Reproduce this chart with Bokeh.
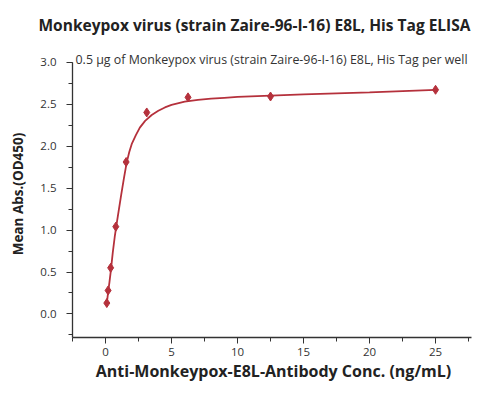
from bokeh.plotting import figure
from bokeh.models import Label, Range1d, SingleIntervalTicker, NumeralTickFormatter
from bokeh.embed import file_html
from bokeh.resources import INLINE

# measured points
conc = [0.098, 0.195, 0.39, 0.78, 1.5625, 3.125, 6.25, 12.5, 25.0]
od450 = [0.13, 0.28, 0.55, 1.04, 1.81, 2.40, 2.58, 2.59, 2.67]

# fitted curve
curve_x = [0.1, 0.2, 0.3, 0.4, 0.55, 0.7, 0.85, 1.0, 1.2, 1.4, 1.6, 1.8, 2.0, 2.3, 2.6,
           3.0, 3.5, 4.0, 4.5, 5.0, 6.0, 7.0, 8.0, 9.0, 10.0, 12.5, 15.0, 20.0, 25.0]
curve_y = [0.13, 0.26, 0.38, 0.51, 0.73, 0.92, 1.08, 1.23, 1.43, 1.62, 1.80, 1.93, 2.03, 2.13, 2.22,
           2.30, 2.37, 2.42, 2.46, 2.49, 2.53, 2.55, 2.565, 2.575, 2.585, 2.60, 2.615, 2.64, 2.67]

title_text = "Monkeypox virus (strain Zaire-96-I-16) E8L, His Tag ELISA"
subtitle_text = "0.5 \u03bcg of Monkeypox virus (strain Zaire-96-I-16) E8L, His Tag per well"
x_label = "Anti-Monkeypox-E8L-Antibody Conc. (ng/mL)"
y_label = "Mean Abs.(OD450)"

FONT = "Open Sans"
RED = "#b5313c"

p = figure(width=474, height=384, output_backend="svg", toolbar_location=None,
           x_range=Range1d(-2.5, 27.95), y_range=Range1d(-0.28, 3.138),
           min_border_left=72, min_border_right=0, min_border_top=44, min_border_bottom=42)
p.outline_line_color = None
p.xgrid.visible = False
p.ygrid.visible = False

p.title.text = title_text
p.title.text_font = FONT
p.title.text_font_size = "15.5px"
p.title.text_font_style = "bold"
p.title.text_color = "#222222"
p.title.align = "left"
p.title.offset = -34
p.title.vertical_align = "top"
p.title.standoff = 26

for ax in (p.xaxis[0], p.yaxis[0]):
    ax.axis_line_color = "#333333"
    ax.axis_line_width = 1.3
    ax.major_tick_line_color = "#333333"
    ax.minor_tick_line_color = "#333333"
    ax.major_tick_in = 0
    ax.major_tick_out = 6
    ax.minor_tick_in = 0
    ax.minor_tick_out = 4
    ax.major_label_text_font = FONT
    ax.major_label_text_font_size = "11.5px"
    ax.major_label_text_color = "#333333"
    ax.axis_label_text_font = FONT
    ax.axis_label_text_font_style = "bold"
    ax.axis_label_text_color = "#222222"

p.xaxis.ticker = SingleIntervalTicker(interval=5, num_minor_ticks=2)
p.yaxis.ticker = SingleIntervalTicker(interval=0.5, num_minor_ticks=2)
p.yaxis.formatter = NumeralTickFormatter(format="0.0")
p.xaxis.bounds = (-2.5, 27.7)
p.yaxis.bounds = (-0.28, 3.0)
p.xaxis.axis_label = x_label
p.yaxis.axis_label = y_label
p.xaxis.axis_label_text_font_size = "16px"
p.yaxis.axis_label_text_font_size = "13.5px"
p.xaxis.major_label_standoff = 4
p.xaxis.axis_label_standoff = 1
p.yaxis.major_label_standoff = 10
p.yaxis.axis_label_standoff = 10

p.line(curve_x, curve_y, line_color=RED, line_width=1.8)
p.scatter(conc, od450, marker="diamond", size=9, fill_color=RED, line_color=RED)

p.add_layout(Label(x=-2.27, y=3.03, text=subtitle_text,
                   text_font=FONT, text_font_size="12.4px", text_color="#333333",
                   text_baseline="middle"))

open("out.html", "w").write(file_html(p, INLINE))
